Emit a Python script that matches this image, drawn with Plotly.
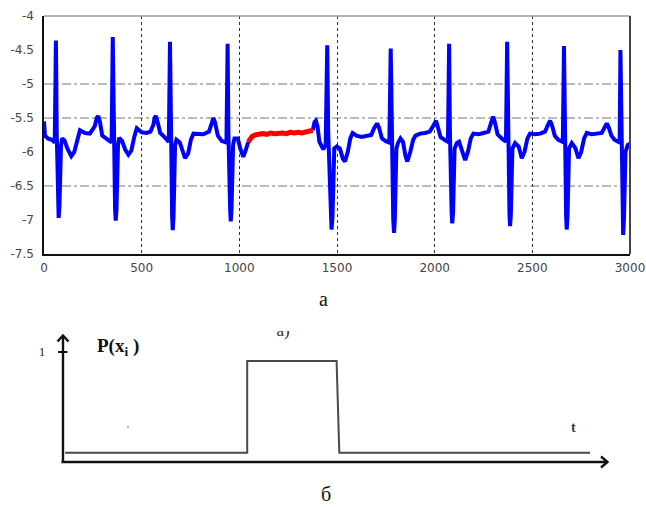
import plotly.graph_objects as go

W, H = 646, 507

# ---------------- data: upper panel (ECG-like signal) ----------------
ecg_t_a = [0, 5, 20, 40, 55,
           61, 65, 72, 75, 79, 87, 93, 105, 120, 140, 155, 170, 184, 210, 235, 260, 270, 278, 286, 298, 320, 340, 346,
           352, 356, 364, 367, 371, 379, 385, 400, 415, 432, 447, 462, 475, 500, 525, 545, 560, 566, 573, 581, 595, 610, 625, 639,
           645, 649, 656, 659, 663, 671, 678, 695, 710, 722, 738, 752, 765, 790, 816, 845, 858, 867, 875, 890, 910, 934,
           940, 944, 953, 956, 960, 968, 975, 992, 1005, 1020, 1032, 1040, 1046]
ecg_v_a = [-5.55, -5.76, -5.80, -5.82, -5.86,
           -4.36, -5.70, -6.80, -6.97, -6.80, -5.90, -5.80, -5.83, -5.95, -6.06, -6.00, -5.80, -5.68, -5.72, -5.73, -5.62, -5.50, -5.47, -5.55, -5.76, -5.80, -5.85, -5.86,
           -4.31, -5.70, -6.85, -7.01, -6.85, -5.90, -5.79, -5.84, -5.96, -6.04, -5.98, -5.78, -5.65, -5.71, -5.72, -5.70, -5.60, -5.50, -5.47, -5.55, -5.72, -5.76, -5.80, -5.85,
           -4.38, -5.70, -6.95, -7.15, -6.95, -5.90, -5.82, -5.86, -6.00, -6.09, -6.02, -5.82, -5.73, -5.74, -5.74, -5.70, -5.58, -5.50, -5.56, -5.76, -5.84, -5.86,
           -4.41, -5.70, -6.85, -7.02, -6.85, -5.90, -5.80, -5.80, -5.95, -6.07, -5.98, -5.90, -5.85]

seg_t = [1046, 1055, 1065, 1080, 1100, 1120, 1140, 1160, 1180, 1200, 1220, 1240, 1260, 1280, 1300, 1320, 1340, 1360, 1376]
seg_v = [-5.85, -5.80, -5.77, -5.75, -5.74, -5.73, -5.74, -5.72, -5.73, -5.72, -5.72, -5.73, -5.71, -5.72, -5.71, -5.72, -5.71, -5.70, -5.68]

ecg_t_b = [1376, 1385, 1392, 1400, 1410, 1420, 1430, 1442,
           1450, 1455, 1468, 1472, 1477, 1486, 1499, 1515, 1530, 1541, 1555, 1568, 1580, 1600, 1625, 1650, 1675, 1690, 1705, 1715, 1730, 1750, 1768,
           1775, 1779, 1788, 1792, 1796, 1804, 1812, 1825, 1838, 1850, 1860, 1875, 1890, 1902, 1925, 1950, 1975, 1992, 2000, 2007, 2015, 2030, 2050, 2068,
           2074, 2078, 2087, 2090, 2094, 2102, 2113, 2125, 2140, 2156, 2170, 2185, 2198, 2225, 2250, 2275, 2288, 2299, 2308, 2322, 2343, 2365,
           2371, 2375, 2383, 2386, 2390, 2398, 2412, 2430, 2446, 2460, 2475, 2488, 2515, 2540, 2565, 2580, 2591, 2600, 2615, 2633, 2656,
           2662, 2666, 2673, 2676, 2680, 2688, 2702, 2720, 2736, 2750, 2765, 2779, 2805, 2830, 2855, 2870, 2881, 2890, 2905, 2920, 2947,
           2951, 2955, 2962, 2965, 2969, 2977, 2988, 3000]
ecg_v_b = [-5.68, -5.56, -5.54, -5.62, -5.85, -5.90, -5.96, -5.90,
           -4.43, -5.70, -6.95, -7.14, -6.95, -5.95, -5.92, -5.95, -6.10, -6.14, -6.00, -5.80, -5.72, -5.76, -5.78, -5.77, -5.75, -5.65, -5.58, -5.64, -5.80, -5.84, -5.86,
           -4.48, -5.70, -7.00, -7.19, -7.00, -5.95, -5.87, -5.80, -5.85, -6.05, -6.14, -6.00, -5.82, -5.76, -5.73, -5.72, -5.70, -5.62, -5.56, -5.54, -5.62, -5.78, -5.82, -5.85,
           -4.41, -5.70, -6.90, -7.05, -6.90, -5.95, -5.87, -5.85, -5.98, -6.12, -6.00, -5.80, -5.73, -5.74, -5.72, -5.70, -5.58, -5.48, -5.56, -5.74, -5.80, -5.85,
           -4.38, -5.70, -6.92, -7.09, -6.92, -5.95, -5.87, -5.92, -6.09, -6.00, -5.80, -5.73, -5.74, -5.73, -5.70, -5.60, -5.54, -5.60, -5.76, -5.82, -5.85,
           -4.44, -5.70, -6.95, -7.14, -6.95, -5.95, -5.87, -5.94, -6.09, -6.00, -5.80, -5.72, -5.74, -5.73, -5.72, -5.64, -5.58, -5.63, -5.76, -5.82, -5.86,
           -4.50, -5.70, -7.00, -7.22, -7.00, -6.00, -5.90, -5.88]

x_ticks = [0, 500, 1000, 1500, 2000, 2500, 3000]
y_ticks = [-7.5, -7, -6.5, -6, -5.5, -5, -4.5, -4]
y_tick_labels = ["-7.5", "-7", "-6.5", "-6", "-5.5", "-5", "-4.5", "-4"]
y_grid_levels = [-5, -5.5, -6.5]

# ---------------- data: lower panel (indicator P(x_i)) ----------------
pulse_t = [0.4, 33.8, 33.8, 50.2, 50.7, 96.7]
pulse_p = [0, 0, 1, 1, 0, 0]


def px(x):
    return x / W


def py(y):
    return 1 - y / H


# lower panel pixel mapping helpers (t = (px-63)/5.45, P = (452.7-py)/91.7)
def tpx(x):
    return (x - 63) / 5.45


def ppx(y):
    return (452.7 - y) / 91.7


fig = go.Figure()

fig.add_trace(go.Scatter(x=ecg_t_a, y=ecg_v_a, mode="lines",
                         line=dict(color="#0000ff", width=4), xaxis="x", yaxis="y", showlegend=False))
fig.add_trace(go.Scatter(x=ecg_t_b, y=ecg_v_b, mode="lines",
                         line=dict(color="#0000ff", width=4), xaxis="x", yaxis="y", showlegend=False))
fig.add_trace(go.Scatter(x=seg_t, y=seg_v, mode="lines",
                         line=dict(color="#ff0000", width=5), xaxis="x", yaxis="y", showlegend=False))

fig.add_trace(go.Scatter(x=pulse_t, y=pulse_p, mode="lines",
                         line=dict(color="#4a4a4a", width=2), xaxis="x2", yaxis="y2", showlegend=False))
# faint clipped label fragment at top of lower panel
fig.add_trace(go.Scatter(x=[tpx(283)], y=[ppx(331.5)], mode="text", text=["а)"],
                         textposition="middle center", cliponaxis=True,
                         textfont=dict(family="Liberation Serif", size=17, color="#333"),
                         xaxis="x2", yaxis="y2", showlegend=False))
fig.add_trace(go.Scatter(x=[tpx(128)], y=[ppx(427)], mode="markers",
                         marker=dict(color="#999", size=2), xaxis="x2", yaxis="y2", showlegend=False))

shapes = []
for lv in y_grid_levels:
    shapes.append(dict(type="line", xref="x domain", yref="y", x0=0, x1=1, y0=lv, y1=lv,
                       line=dict(color="#777", width=1, dash="dashdot"), layer="below"))
shapes.append(dict(type="line", xref="x domain", yref="y domain", x0=0, x1=1, y0=1, y1=1,
                   line=dict(color="#999", width=1.5)))
shapes.append(dict(type="line", xref="x domain", yref="y domain", x0=1, x1=1, y0=0, y1=1,
                   line=dict(color="#444", width=2)))

# lower panel axes with chevron arrowheads
ax_style = dict(color="#111", width=2.4)
shapes.append(dict(type="line", xref="x2", yref="y2", x0=tpx(63), x1=tpx(63), y0=ppx(462), y1=ppx(336),
                   line=ax_style))
shapes.append(dict(type="path", xref="x2", yref="y2",
                   path=f"M {tpx(57.5)},{ppx(341.5)} L {tpx(63)},{ppx(335.5)} L {tpx(68.5)},{ppx(341.5)}",
                   line=ax_style))
shapes.append(dict(type="line", xref="x2", yref="y2", x0=tpx(61.5), x1=tpx(607), y0=ppx(462), y1=ppx(462),
                   line=ax_style))
shapes.append(dict(type="path", xref="x2", yref="y2",
                   path=f"M {tpx(601)},{ppx(456.5)} L {tpx(607.5)},{ppx(462)} L {tpx(601)},{ppx(467.5)}",
                   line=ax_style))
# tick on the P axis
shapes.append(dict(type="line", xref="x2", yref="y2", x0=tpx(58), x1=tpx(67.5), y0=ppx(352), y1=ppx(352),
                   line=dict(color="#111", width=2)))


def label(text, x, y, size, color="#111", family="Liberation Serif"):
    return dict(text=text, x=px(x), y=py(y), xref="paper", yref="paper", showarrow=False,
                xanchor="center", yanchor="middle",
                font=dict(family=family, size=size, color=color))


annotations = [
    label("а", 323, 299, 20),
    label("б", 326, 494, 20),
    label("<b>P(x<sub>i</sub> )</b>", 118, 347, 19),
    label("1", 42, 352, 12),
    label("<b>t</b>", 573, 427, 14, color="#2a3a5a"),
]

tick_font = dict(family="DejaVu Sans", size=12, color="#444")

fig.update_layout(
    width=W, height=H,
    autosize=False,
    margin=dict(l=0, r=0, t=0, b=0, pad=0),
    paper_bgcolor="white", plot_bgcolor="white",
    showlegend=False,
    xaxis=dict(domain=[px(44), px(630)], range=[0, 3000], tickvals=x_ticks,
               ticktext=[str(v) for v in x_ticks], tickfont=tick_font,
               showgrid=True, gridcolor="#333", griddash="dot", gridwidth=1,
               showline=True, linecolor="#111", linewidth=1.5, zeroline=False,
               ticks="", ticklabelstandoff=2, anchor="y", automargin=False),
    yaxis=dict(domain=[py(254), py(16)], range=[-7.5, -4], tickvals=y_ticks,
               ticktext=y_tick_labels, tickfont=tick_font,
               showgrid=False, showline=True, linecolor="#111", linewidth=1.5, zeroline=False,
               ticks="", ticklabelstandoff=6, anchor="x", automargin=False),
    xaxis2=dict(domain=[0, 1], range=[tpx(0), tpx(646)], visible=False, anchor="y2"),
    yaxis2=dict(domain=[py(480), py(331)], range=[ppx(480), ppx(331)], visible=False, anchor="x2"),
    shapes=shapes,
    annotations=annotations,
)

fig.write_html(
    "out.html",
    config={"responsive": False, "displayModeBar": False},
    post_script="document.body.style.margin='0';document.body.style.padding='0';"
                "document.documentElement.style.overflow='hidden';",
)
